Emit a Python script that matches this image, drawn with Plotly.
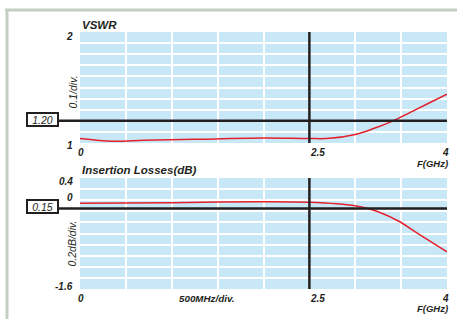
import plotly.graph_objects as go

# ---- data ----
vswr_freq = [0, 0.36, 0.7, 1.25, 2.0, 2.5, 2.72, 3.0, 3.2, 3.4, 3.6, 3.8, 4.0]
vswr_vals = [1.040, 1.015, 1.024, 1.033, 1.044, 1.040, 1.042, 1.077, 1.13, 1.195, 1.276, 1.358, 1.44]

il_freq = [0, 1.0, 1.5, 2.0, 2.5, 3.0, 3.1, 3.25, 3.47, 3.68, 4.0]
il_vals = [-0.056, -0.045, -0.032, -0.027, -0.038, -0.099, -0.135, -0.207, -0.375, -0.597, -0.93]

x_tick_vals = [0, 2.5, 4]
x_tick_text = ["0", "2.5", "4"]
vswr_tick_vals = [2, 1]
vswr_tick_text = ["2", "1"]
il_tick_vals = [0.4, 0, -1.6]
il_tick_text = ["0.4", "0", "-1.6"]

vswr_limit = 1.20
il_limit = -0.15
marker_freq = 2.5

W, H = 457, 319
def px(x): return x / W
def py(y): return 1 - y / H

FONT = "Liberation Sans, Arial, sans-serif"
TXT = "#231f20"
RED = "#e4202c"
BG = "#c8e8f8"

fig = go.Figure()
fig.add_trace(go.Scatter(x=vswr_freq, y=vswr_vals, mode="lines",
                         line=dict(color=RED, width=1.5, shape="spline", smoothing=1.0),
                         xaxis="x", yaxis="y", showlegend=False, hoverinfo="skip"))
fig.add_trace(go.Scatter(x=il_freq, y=il_vals, mode="lines",
                         line=dict(color=RED, width=1.5, shape="spline", smoothing=1.0),
                         xaxis="x2", yaxis="y2", showlegend=False, hoverinfo="skip"))

ax_common = dict(showgrid=True, gridcolor="white", gridwidth=2, zeroline=False,
                 showline=False, showticklabels=False, ticks="", fixedrange=True)

fig.update_layout(
    width=W, height=H, autosize=False,
    margin=dict(l=0, r=0, t=0, b=0),
    paper_bgcolor="white", plot_bgcolor=BG,
    xaxis=dict(domain=[px(80), px(447)], range=[0, 4], dtick=0.5, tick0=0, anchor="y", **ax_common),
    yaxis=dict(domain=[py(143), py(32)], range=[1, 2], dtick=0.1, tick0=1, anchor="x", **ax_common),
    xaxis2=dict(domain=[px(80), px(447)], range=[0, 4], dtick=0.5, tick0=0, anchor="y2", **ax_common),
    yaxis2=dict(domain=[py(289), py(178)], range=[-1.6, 0.4], dtick=0.2, tick0=0, anchor="x2", **ax_common),
)

shapes = []
# outer frame (top + left)
shapes.append(dict(type="line", xref="paper", yref="paper", x0=px(5), x1=1.0, y0=py(10), y1=py(10),
                   line=dict(color="#c5cfc1", width=3)))
shapes.append(dict(type="line", xref="paper", yref="paper", x0=px(7), x1=px(7), y0=py(9), y1=0,
                   line=dict(color="#c5cfc1", width=3)))
# marker verticals
for xa, ya in (("x", "y"), ("x2", "y2")):
    shapes.append(dict(type="line", xref=xa, yref=ya + " domain", x0=marker_freq, x1=marker_freq,
                       y0=0, y1=1, line=dict(color=TXT, width=2.5)))
# limit lines
shapes.append(dict(type="line", xref="paper", yref="y", x0=px(58), x1=px(447),
                   y0=vswr_limit, y1=vswr_limit, line=dict(color=TXT, width=2.5)))
shapes.append(dict(type="line", xref="paper", yref="y2", x0=px(58), x1=px(447),
                   y0=il_limit, y1=il_limit, line=dict(color=TXT, width=2.5)))
fig.update_layout(shapes=shapes)

ann = []
def T(text, x, y, xref="paper", yref="paper", size=10, bold=True, italic=True,
      xanchor="center", yanchor="middle", xshift=0, yshift=0, angle=0, **kw):
    ann.append(dict(text=text, x=x, y=y, xref=xref, yref=yref, showarrow=False,
                    xanchor=xanchor, yanchor=yanchor, xshift=xshift, yshift=yshift,
                    textangle=angle,
                    font=dict(family=FONT, size=size, color=TXT,
                              weight="bold" if bold else "normal",
                              style="italic" if italic else "normal"), **kw))

# titles
T("VSWR", px(80), py(25), size=11.5, xanchor="left")
T("Insertion Losses(dB)", px(80), py(170), size=11.5, xanchor="left")

# x tick labels
x_shifts = [1, 8, -2]
for v, t, s in zip(x_tick_vals, x_tick_text, x_shifts):
    T(t, v, py(153), xref="x", xshift=s)
    T(t, v, py(298.5), xref="x2", xshift=s)
T("F(GHz)", px(450), py(163.5), size=9.5, xanchor="right")
T("F(GHz)", px(450), py(308), size=9.5, xanchor="right")
T("500MHz/div.", px(207), py(298.5), size=9.8)

# y tick labels
vs_shift = [-4.5, -2]
for v, t, s in zip(vswr_tick_vals, vswr_tick_text, vs_shift):
    T(t, px(75), v, yref="y", xanchor="right", yshift=s)
il_shift = [-3.7, 3, 2.3]
for v, t, s in zip(il_tick_vals, il_tick_text, il_shift):
    T(t, px(75), v, yref="y2", xanchor="right", yshift=s)

# y axis titles
T("0.1/div.", px(72.5), py(92), size=10.5, bold=False, angle=-90)
T("0.2dB/div.", px(71.5), py(244), size=10.5, bold=False, angle=-90)

# limit boxes
T("1.20", px(42.5), vswr_limit, yref="y", yshift=1.5, size=10.5, bold=False,
  bordercolor=TXT, borderwidth=2, borderpad=1, width=27, height=9, bgcolor="white")
T("0.15", px(42.5), il_limit, yref="y2", yshift=2, size=10.5, bold=False,
  bordercolor=TXT, borderwidth=2, borderpad=1, width=27, height=9, bgcolor="white")

fig.update_layout(annotations=ann)
fig.write_html("out.html", config={"displayModeBar": False},
               post_script="document.body.style.margin='0';document.body.style.overflow='hidden';")
